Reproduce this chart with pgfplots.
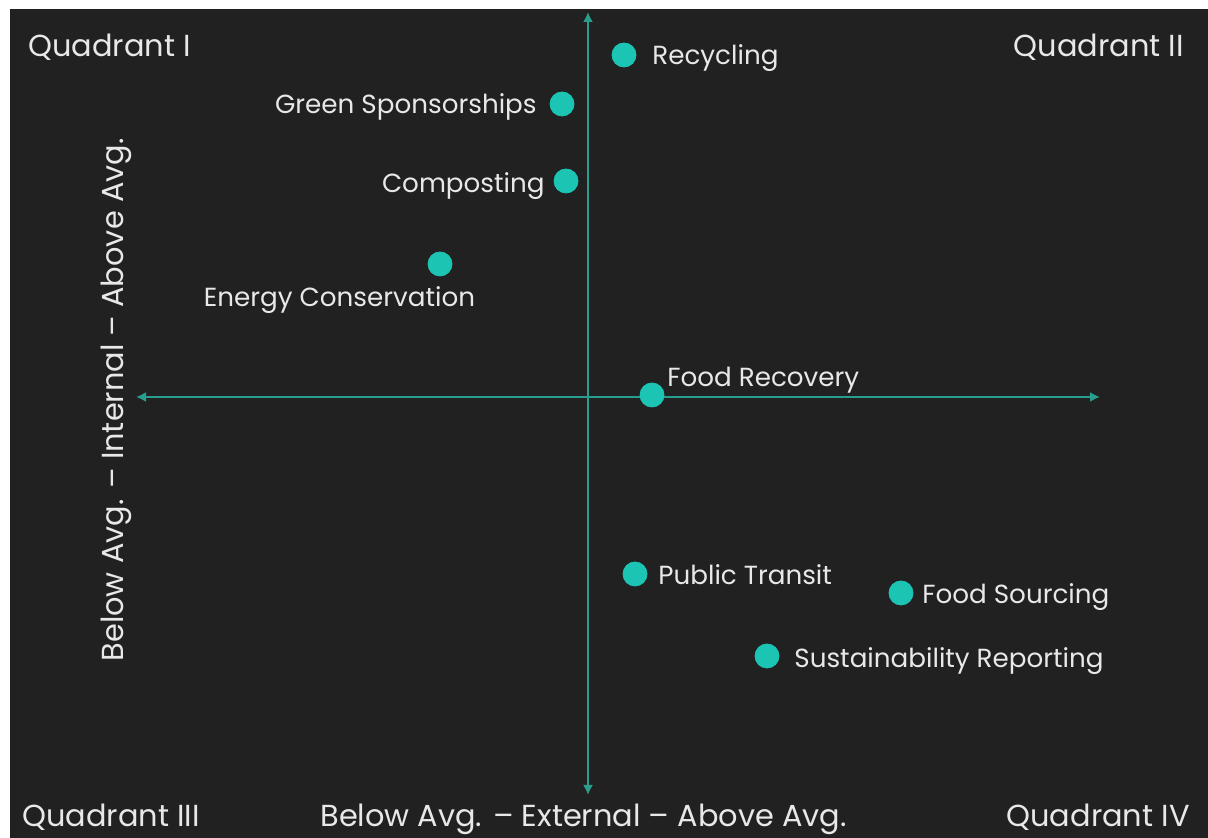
\documentclass[border=0pt]{standalone}
\usepackage{pgfplots}
\pgfplotsset{compat=1.18}
\usepackage{fontspec}
\setmainfont{Poppins}
\usetikzlibrary{arrows.meta}
\definecolor{bg}{HTML}{212121}
\definecolor{teal1}{HTML}{1CC4B4}
\definecolor{axisteal}{HTML}{2A9E8E}
\definecolor{txt}{HTML}{E8E8E8}
\tikzset{
  lbl/.style={font=\fontsize{13.1}{15}\selectfont, text=txt, inner sep=0pt, text height=0.72em, text depth=0.22em},
  big/.style={font=\fontsize{15.2}{17}\selectfont, text=txt, inner sep=0pt, text height=0.72em, text depth=0.22em},
}
\begin{document}
\begin{tikzpicture}
\begin{axis}[
  scale only axis,
  width=604pt, height=419pt,
  xmin=-58.8, xmax=62.0, ymin=-44.1, ymax=39.7,
  hide axis, clip=false,
]
% background
\fill[white] (axis cs:-58.8,-44.1) rectangle (axis cs:62.0,39.7);
\fill[bg] (axis cs:-57.8,-44.1) rectangle (axis cs:62.0,38.8);
% quadrant axes
\draw[axisteal, line width=1.2pt, {Latex[length=5pt,width=5pt]}-{Latex[length=5pt,width=5pt]}]
  (axis cs:0,-39.8) -- (axis cs:0,38.5);
\draw[axisteal, line width=1.2pt, {Latex[length=5pt,width=5pt]}-{Latex[length=5pt,width=5pt]}]
  (axis cs:-45.2,0) -- (axis cs:51.2,0);
% points
\addplot[only marks, mark=*, mark size=6pt, mark options={fill=teal1, draw=teal1}] coordinates {
  (3.6,34.2)    % Recycling
  (-2.6,29.3)   % Green Sponsorships
  (-2.2,21.6)   % Composting
  (-14.8,13.3)  % Energy Conservation
  (6.4,0.2)     % Food Recovery
  (4.7,-17.7)   % Public Transit
  (31.3,-19.6)  % Food Sourcing
  (17.9,-25.9)  % Sustainability Reporting
};
% point labels
\node[lbl, anchor=west] at (axis cs:6.4,33.7) {Recycling};
\node[lbl, anchor=east] at (axis cs:-5.1,28.8) {Green Sponsorships};
\node[lbl, anchor=east] at (axis cs:-4.3,20.9) {Composting};
\node[lbl, anchor=center] at (axis cs:-24.85,9.5) {Energy Conservation};
\node[lbl, anchor=west] at (axis cs:7.9,1.5) {Food Recovery};
\node[lbl, anchor=west] at (axis cs:7.0,-18.3) {Public Transit};
\node[lbl, anchor=west] at (axis cs:33.4,-20.2) {Food Sourcing};
\node[lbl, anchor=west] at (axis cs:20.6,-26.6) {Sustainability Reporting};
% quadrant names
\node[big, anchor=west] at (axis cs:-56.0,34.5) {Quadrant I};
\node[big, anchor=east] at (axis cs:59.6,34.5) {Quadrant II};
\node[big, anchor=west] at (axis cs:-56.6,-42.5) {Quadrant III};
\node[big, anchor=east] at (axis cs:60.2,-42.5) {Quadrant IV};
% axis titles
\node[big, anchor=center] at (axis cs:-0.45,-42.5) {Below Avg. – External – Above Avg.};
\node[big, anchor=center, rotate=90] at (axis cs:-47.0,-0.3) {Below Avg. – Internal – Above Avg.};
\end{axis}
\end{tikzpicture}
\end{document}
